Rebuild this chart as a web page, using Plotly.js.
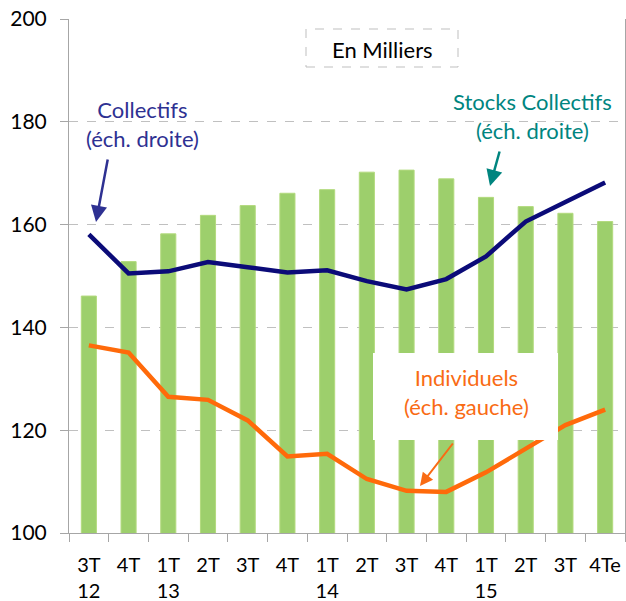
<!DOCTYPE html>
<html>
<head>
<meta charset="utf-8">
<script src="https://cdn.plot.ly/plotly-3.0.1.min.js"></script>
<style>html,body{margin:0;padding:0;background:#fff;}#chart{width:626px;height:601px;}</style>
</head>
<body>
<div id="chart"></div>
<script>
// Data
const periods = ['3T-12','4T-12','1T-13','2T-13','3T-13','4T-13','1T-14','2T-14','3T-14','4T-14','1T-15','2T-15','3T-15','4Te-15'];
const tickLabels = ['3T<br>12','4T','1T<br>13','2T','3T','4T','1T<br>14','2T','3T','4T','1T<br>15','2T','3T','4Te'];
const stocksCollectifs = [146.1, 152.8, 158.2, 161.8, 163.7, 166.1, 166.8, 170.2, 170.6, 168.9, 165.3, 163.5, 162.2, 160.6];
const collectifs = [158.1, 150.5, 150.9, 152.7, 151.7, 150.7, 151.1, 149.0, 147.4, 149.4, 153.8, 160.6, 164.4, 168.2];
const individuels = [136.5, 135.1, 126.5, 125.9, 121.9, 114.9, 115.4, 110.5, 108.2, 108.0, 111.8, 116.3, 121.0, 124.0];

const FONT = 'Lato, "Open Sans", sans-serif';
const W = 626, H = 601, L = 69, R = 1, T = 19, B = 68;
const pw = W - L - R, ph = H - T - B;
const px = x => (x - L) / pw;
const py = y => (H - B - y) / ph;

const traces = [
  {type: 'bar', x: periods, y: stocksCollectifs, name: 'Stocks Collectifs',
   width: 0.38, marker: {color: '#9DCF6C', line: {color: '#B3DA7E', width: 1}}, hoverinfo: 'y'},
  {type: 'scatter', mode: 'lines', x: periods, y: collectifs, name: 'Collectifs',
   line: {color: '#0B0B78', width: 4.5}},
  {type: 'scatter', mode: 'lines', x: periods, y: individuels, name: 'Individuels',
   line: {color: '#FF6A0A', width: 4.5}}
];

const layout = {
  width: W, height: H,
  margin: {l: L, r: R, t: T, b: B, pad: 0},
  paper_bgcolor: '#fff', plot_bgcolor: '#fff',
  showlegend: false,
  font: {family: FONT, size: 21, color: '#000'},
  xaxis: {
    type: 'category', tickmode: 'array', tickvals: periods, ticktext: tickLabels,
    tickson: 'boundaries', ticks: 'outside', ticklen: 8, tickcolor: '#A6A6A6', tickwidth: 1,
    showline: true, linecolor: '#A6A6A6', linewidth: 1, showgrid: false, tickangle: 0,
    tickfont: {family: FONT, size: 20, color: '#000'}, ticklabelstandoff: 14
  },
  yaxis: {
    range: [100, 200], dtick: 20, tick0: 100,
    ticks: 'outside', ticklen: 8, tickcolor: '#A6A6A6',
    showline: true, mirror: true, linecolor: '#A6A6A6', linewidth: 1,
    showgrid: true, gridcolor: '#C0C0C0', griddash: 'dash', gridwidth: 1,
    zeroline: false, tickfont: {family: FONT, size: 21, color: '#000'}, ticklabelstandoff: 9
  },
  shapes: [
    {type: 'rect', xref: 'paper', yref: 'paper', x0: px(306), x1: px(458), y0: py(67), y1: py(29),
     line: {color: '#BFBFBF', width: 1, dash: 'dash'}, fillcolor: '#fff', layer: 'above'},
    {type: 'rect', xref: 'paper', yref: 'paper', x0: px(373), x1: px(558), y0: py(440), y1: py(353),
     line: {width: 0}, fillcolor: '#fff', layer: 'above'}
  ],
  annotations: [
    {xref: 'paper', yref: 'paper', x: px(382), y: py(49), text: 'En Milliers', showarrow: false,
     font: {family: FONT, size: 22, color: '#000'}, xanchor: 'center', yanchor: 'middle'},
    {xref: 'paper', yref: 'paper', x: px(142), y: py(124), text: 'Collectifs<br>(éch. droite)', showarrow: false,
     font: {family: FONT, size: 22, color: '#2E3192'}, xanchor: 'center', yanchor: 'middle'},
    {xref: 'paper', yref: 'paper', x: px(532), y: py(116), text: 'Stocks Collectifs<br>(éch. droite)', showarrow: false,
     font: {family: FONT, size: 22, color: '#00857F'}, xanchor: 'center', yanchor: 'middle'},
    {xref: 'paper', yref: 'paper', x: px(466), y: py(392), text: 'Individuels<br>(éch. gauche)', showarrow: false,
     font: {family: FONT, size: 22, color: '#F96B14'}, xanchor: 'center', yanchor: 'middle'},
    // arrows
    {xref: 'paper', yref: 'paper', x: px(96), y: py(222), ax: 108 - 96, ay: 158 - 222, text: '',
     showarrow: true, arrowhead: 2, arrowsize: 1.3, arrowwidth: 2.5, arrowcolor: '#2E3192'},
    {xref: 'paper', yref: 'paper', x: px(490), y: py(186), ax: 500 - 490, ay: 150 - 186, text: '',
     showarrow: true, arrowhead: 2, arrowsize: 1.3, arrowwidth: 2.5, arrowcolor: '#00857F'},
    {xref: 'paper', yref: 'paper', x: px(420), y: py(486), ax: 454 - 420, ay: 442 - 486, text: '',
     showarrow: true, arrowhead: 2, arrowsize: 1.3, arrowwidth: 2, arrowcolor: '#F96B14'}
  ]
};

Plotly.newPlot('chart', traces, layout, {displayModeBar: false, staticPlot: true});
</script>
</body>
</html>
